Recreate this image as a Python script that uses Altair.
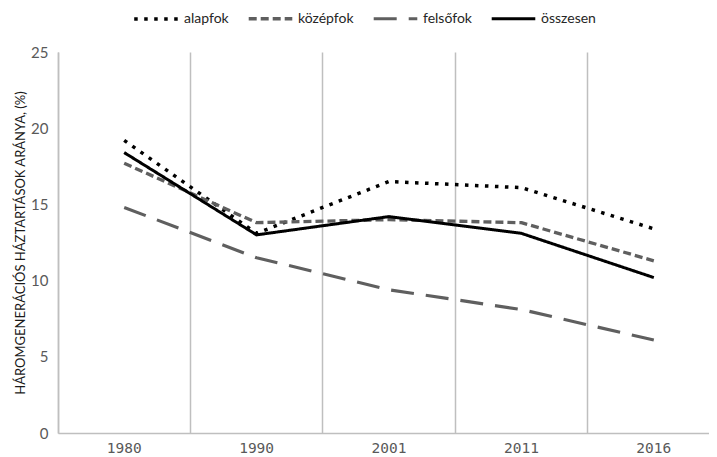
import altair as alt
import pandas as pd

years = ["1980", "1990", "2001", "2011", "2016"]
series = ["alapfok", "középfok", "felsőfok", "összesen"]
alapfok = [19.2, 13.1, 16.5, 16.1, 13.4]
kozepfok = [17.7, 13.8, 14.0, 13.8, 11.3]
felsofok = [14.8, 11.5, 9.4, 8.1, 6.1]
osszesen = [18.4, 13.0, 14.2, 13.1, 10.2]

rows = []
for name, vals in zip(series, [alapfok, kozepfok, felsofok, osszesen]):
    for y, v in zip(years, vals):
        rows.append({"ev": y, "sorozat": name, "ertek": v})
df = pd.DataFrame(rows)

colors = ["#000000", "#5f5f5f", "#5f5f5f", "#000000"]
dashes = [[3.5, 6.5], [8, 4], [23, 12], [1, 0]]
widths = [3.5, 3, 3, 3]

chart = alt.Chart(df).mark_line(strokeJoin="round").encode(
    x=alt.X("ev:N", sort=years, title=None, bandPosition=0.5,
            scale=alt.Scale(type="band", paddingInner=0, paddingOuter=0, range=[0, 662]),
            axis=alt.Axis(labelAngle=0, ticks=False, grid=True, bandPosition=0,
                          gridColor="#bfbfbf", gridWidth=1.5, domainColor="#bfbfbf",
                          domainWidth=1.5, labelFont="DejaVu Sans Mono", labelFontSize=14.5,
                          labelColor="#595959", labelPadding=8)),
    y=alt.Y("ertek:Q", title="HÁROMGENERÁCIÓS HÁZTARTÁSOK ARÁNYA, (%)",
            scale=alt.Scale(domain=[0, 25], nice=False),
            axis=alt.Axis(values=[0, 5, 10, 15, 20, 25], ticks=False, grid=False,
                          domainColor="#bfbfbf", domainWidth=1.5, labelFont="Lato",
                          labelFontSize=15, labelColor="#595959", labelPadding=10,
                          titleFont="Lato", titleFontSize=13, titleFontWeight="normal",
                          titleColor="#1a1a1a", titlePadding=3)),
    color=alt.Color("sorozat:N", sort=series, title=None,
                    scale=alt.Scale(domain=series, range=colors),
                    legend=alt.Legend(orient="none", legendX=74, legendY=-57,
                                      direction="horizontal", symbolType="stroke",
                                      symbolSize=1900, symbolStrokeWidth=3.5,
                                      labelFont="Lato", labelFontSize=14,
                                      labelColor="#262626", columnPadding=13,
                                      labelOffset=4)),
    strokeDash=alt.StrokeDash("sorozat:N", sort=series, title=None,
                              scale=alt.Scale(domain=series, range=dashes)),
    strokeWidth=alt.StrokeWidth("sorozat:N", sort=series, title=None,
                                scale=alt.Scale(domain=series, range=widths),
                                legend=None),
).properties(
    width=651, height=381,
    autosize=alt.AutoSizeParams(type="none"),
    padding={"left": 50, "top": 44, "right": 0, "bottom": 22},
).configure_view(stroke=None)

chart.save("out.html", embed_options={"renderer": "svg", "actions": False})
